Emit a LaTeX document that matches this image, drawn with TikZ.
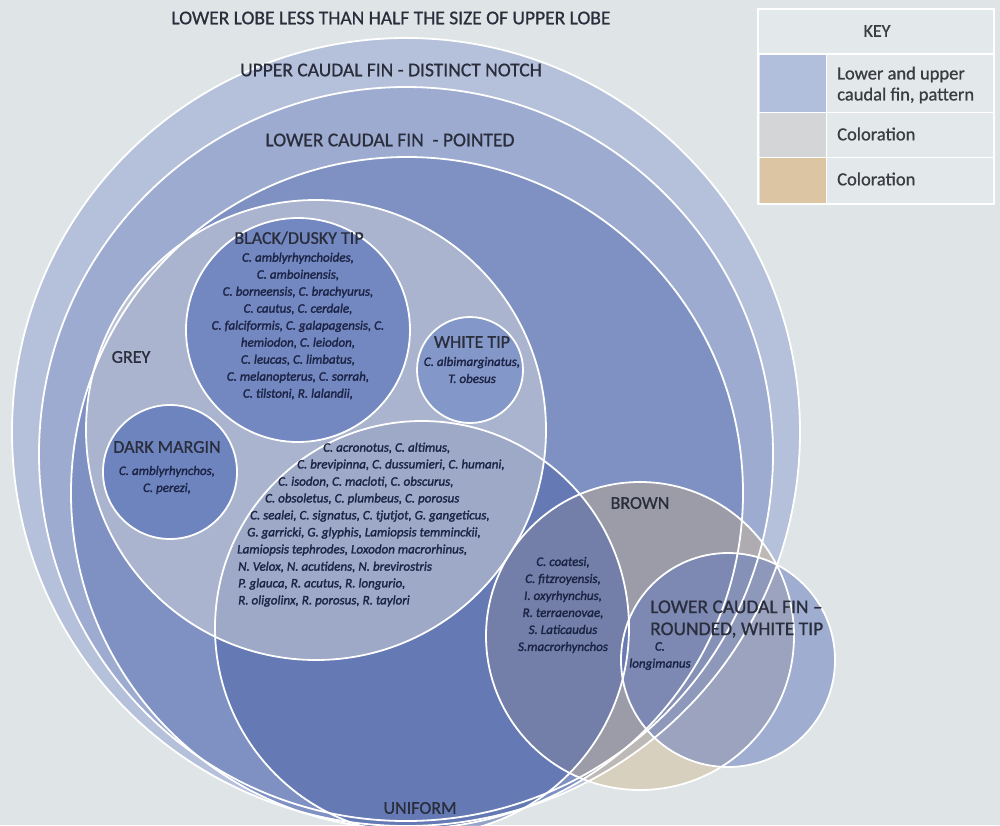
\documentclass[tikz,border=0pt]{standalone}
\usepackage{fontspec}
\setmainfont{Carlito}
\newfontfamily\labfont{Carlito}[FakeBold=0.8]
\newfontfamily\sppfont{Carlito}[FakeBold=1.8]
\definecolor{bg}{HTML}{DFE4E6}
\definecolor{c1col}{HTML}{B5C0DA}
\definecolor{c2col}{HTML}{9DABD0}
\definecolor{c3col}{HTML}{7E91C2}
\definecolor{tanc}{HTML}{CBB07E}
\definecolor{unic}{HTML}{4D64A8}
\definecolor{greyc}{HTML}{D6D8DA}
\definecolor{blackc}{HTML}{7387C1}
\definecolor{whitec}{HTML}{8497C9}
\definecolor{darkc}{HTML}{6E84BF}
\definecolor{roundc}{HTML}{6078BE}
\definecolor{labc}{HTML}{2A2E3C}
\definecolor{sppc}{HTML}{1C2445}
\definecolor{keyc}{HTML}{3A3C40}
\definecolor{keybg}{HTML}{E3E8EA}
\definecolor{swblue}{HTML}{B2BFDC}
\definecolor{swgrey}{HTML}{D4D5D6}
\definecolor{swtan}{HTML}{DCC5A2}
\begin{document}
\begin{tikzpicture}[x=1pt,y=-1pt,
  ring/.style={draw=white,line width=1.8pt},
  biglab/.style={font=\labfont\fontsize{19.5}{22}\selectfont,text=labc,inner sep=0pt},
  lab/.style={font=\labfont\fontsize{18}{20}\selectfont,text=labc,inner sep=0pt},
  spp/.style={font=\sppfont\fontsize{13}{17}\selectfont\itshape,text=sppc,inner sep=0pt,align=center},
  sppl/.style={font=\sppfont\fontsize{13}{17}\selectfont\itshape,text=sppc,inner sep=0pt,anchor=west},
  keyt/.style={font=\labfont\fontsize{18.5}{21}\selectfont,text=keyc,inner sep=0pt,anchor=west,align=left},
  keyline/.style={draw=white,line width=1.5pt}
]
\useasboundingbox (0,0) rectangle (1000,825);
\fill[bg] (0,0) rectangle (1000,825);
% centres
\coordinate (o1) at (406,432);
\coordinate (o2) at (406,454);
\coordinate (o3) at (407,493);
\coordinate (obr) at (640,636);
\coordinate (ouni) at (422,628);
\coordinate (ogr) at (316,430);
\coordinate (obl) at (298,330);
\coordinate (owt) at (470,370);
\coordinate (odm) at (170,472);
\coordinate (ord) at (728,660);
\begin{scope}
\clip (0,0) rectangle (1000,825);
\fill[c1col] (o1) circle[radius=394];
\fill[c2col] (o2) circle[radius=367];
\fill[c3col] (o3) circle[radius=336];
\fill[tanc,fill opacity=0.38] (obr) circle[radius=154];
\fill[unic,fill opacity=0.5] (ouni) circle[radius=207];
\fill[greyc,fill opacity=0.5] (ogr) circle[radius=230];
\fill[blackc] (obl) circle[radius=112];
\fill[whitec] (owt) circle[radius=53];
\fill[darkc] (odm) circle[radius=67];
\fill[roundc,fill opacity=0.5] (ord) circle[radius=107];
% outlines
\draw[ring] (o1) circle[radius=394];
\draw[ring] (o2) circle[radius=367];
\draw[ring] (o3) circle[radius=336];
\draw[ring] (obr) circle[radius=154];
\draw[ring] (ouni) circle[radius=207];
\draw[ring] (ogr) circle[radius=230];
\draw[ring] (obl) circle[radius=112];
\draw[ring] (owt) circle[radius=53];
\draw[ring] (odm) circle[radius=67];
\draw[ring] (ord) circle[radius=107];
\end{scope}
% labels
\node[biglab] (tlobe) at (391,18) {LOWER LOBE LESS THAN HALF THE SIZE OF UPPER LOBE};
\node[biglab] (tnotch) at (391,70) {UPPER CAUDAL FIN - DISTINCT NOTCH};
\node[biglab] (tpoint) at (390,140) {LOWER CAUDAL FIN\ \ - POINTED};
\node[lab] (tgrey) at (131,357) {GREY};
\node[lab] (tblack) at (299,238) {BLACK/DUSKY TIP};
\node[spp] (sblack) at (298,326) {C. amblyrhynchoides,\\C. amboinensis,\\C. borneensis, C. brachyurus,\\C. cautus, C. cerdale,\\C. falciformis, C. galapagensis, C.\\hemiodon, C. leiodon,\\C. leucas, C. limbatus,\\C. melanopterus, C. sorrah,\\C. tilstoni, R. lalandii,};
\node[lab] (twhite) at (472,342) {WHITE TIP};
\node[spp] (swhite) at (472,370) {C. albimarginatus,\\T. obesus};
\node[lab] (tdark) at (167,447) {DARK MARGIN};
\node[spp] (sdark) at (167,480) {C. amblyrhynchos,\\C. perezi,};
\node[sppl] (u1) at (323,448) {C. acronotus, C. altimus,};
\node[sppl] (u2) at (297,465) {C. brevipinna, C. dussumieri, C. humani,};
\node[sppl] (u3) at (278,482) {C. isodon, C. macloti, C. obscurus,};
\node[sppl] (u4) at (265,499) {C. obsoletus, C. plumbeus, C. porosus};
\node[sppl] (u5) at (250,516) {C. sealei, C. signatus, C. tjutjot, G. gangeticus,};
\node[sppl] (u6) at (247,533) {G. garricki, G. glyphis, Lamiopsis temminckii,};
\node[sppl] (u7) at (237,550) {Lamiopsis tephrodes, Loxodon macrorhinus,};
\node[sppl] (u8) at (238,567) {N. Velox, N. acutidens, N. brevirostris};
\node[sppl] (u9) at (238,584) {P. glauca, R. acutus, R. longurio,};
\node[sppl] (u10) at (238,601) {R. oligolinx, R. porosus, R. taylori};
\node[lab] (tbrown) at (640,503) {BROWN};
\node[spp] (sbrown) at (563,605) {C. coatesi,\\C. fitzroyensis,\\I. oxyrhynchus,\\R. terraenovae,\\S. Laticaudus\\S.macrorhynchos};
\node[biglab,anchor=west,align=left] (tround) at (650,619) {LOWER CAUDAL FIN –\\ROUNDED, WHITE TIP};
\node[spp] (sround) at (660,656) {C.\\longimanus};
\node[lab] (tuni) at (420,808) {UNIFORM};
% key
\fill[keybg] (758,9) rectangle (994,204);
\fill[swblue] (760,55) rectangle (826,112);
\fill[swgrey] (760,113) rectangle (826,157);
\fill[swtan] (760,158) rectangle (826,203);
\draw[keyline] (758,9) rectangle (994,204);
\draw[keyline] (758,54) -- (994,54);
\draw[keyline] (758,112.5) -- (994,112.5);
\draw[keyline] (758,157.5) -- (994,157.5);
\draw[keyline] (826.5,54) -- (826.5,204);
\node[font=\labfont\fontsize{18}{20}\selectfont,text=keyc,inner sep=0pt] (kt) at (877,31) {KEY};
\node[keyt] (k1) at (837,85) {Lower and upper\\caudal fin, pattern};
\node[keyt] (k2) at (837,134) {Coloration};
\node[keyt] (k3) at (837,179) {Coloration};
\end{tikzpicture}
\end{document}
